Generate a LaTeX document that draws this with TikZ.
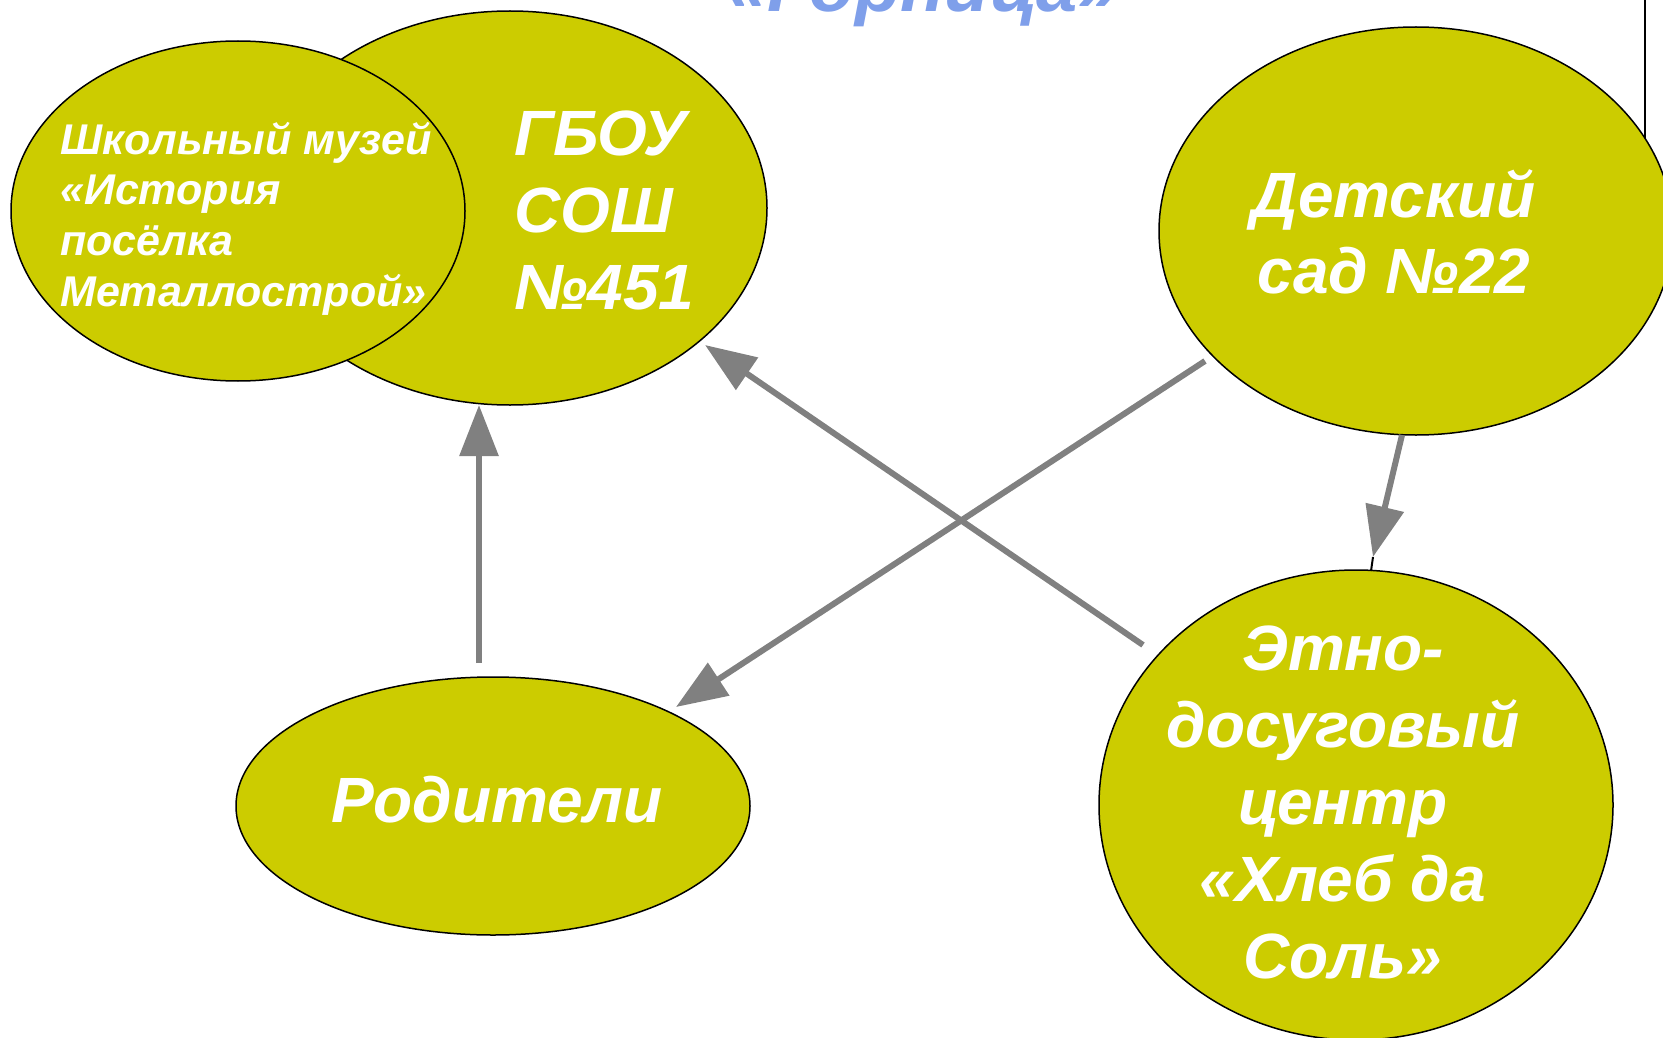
\documentclass[tikz,border=0pt]{standalone}
\usepackage{fontspec}
\setmainfont{Liberation Sans}
\usetikzlibrary{arrows.meta,shapes.geometric}
\definecolor{ovfill}{HTML}{CCCC00}
\definecolor{titleblue}{HTML}{7F9FEA}
\definecolor{arrgray}{HTML}{808080}
\begin{document}
\begin{tikzpicture}[x=1pt,y=-1pt,
  bubble/.style={ellipse, draw=black, line width=1.5pt, fill=ovfill, inner sep=0pt},
  conn/.style={draw=arrgray, line width=6pt, -{Triangle[length=51pt,width=38pt]}},
  thin/.style={draw=black, line width=2pt},
  big/.style={text=white, font=\fontsize{64}{77}\selectfont\bfseries\itshape, inner sep=0pt},
  small/.style={text=white, font=\fontsize{43}{51}\selectfont\bfseries\itshape, inner sep=0pt},
  titletext/.style={text=titleblue, font=\fontsize{74}{80}\selectfont\bfseries\itshape, inner sep=0pt},
]
\useasboundingbox (0,0) rectangle (1663,1038);
% title (cut at top edge)
\node[titletext, anchor=base] (title) at (923,12) {«Горница»};
% vertical line behind the kindergarten ellipse
\coordinate (vtop) at (1645,0);
\coordinate (vbot) at (1645,140);
\draw[thin] (vtop) -- (vbot);
% ellipses
\node[bubble, minimum width=514pt, minimum height=394pt] (gbou) at (510,208) {};
\node[bubble, minimum width=454pt, minimum height=340pt] (museum) at (238,211) {};
\node[bubble, minimum width=514pt, minimum height=408pt] (sad) at (1416,231) {};
\node[bubble, minimum width=514pt, minimum height=258pt] (parents) at (493,806) {};
\node[bubble, minimum width=514pt, minimum height=470pt] (etno) at (1356,805) {};
% texts
\node[small, anchor=base west] (museumtext) at (60,154)
  {\begin{tabular}[t]{@{}l@{}}Школьный музей\\«История\\посёлка\\Металлострой»\end{tabular}};
\node[big, anchor=base west] (gboutext) at (514,156)
  {\begin{tabular}[t]{@{}l@{}}ГБОУ\\СОШ\\№451\end{tabular}};
\node[big, anchor=base] (sadtext) at (1394,217)
  {\begin{tabular}[t]{@{}c@{}}Детский\\сад №22\end{tabular}};
\node[big, anchor=base] (parentstext) at (497,822) {Родители};
\node[big, anchor=base] (etnotext) at (1343,670)
  {\begin{tabular}[t]{@{}c@{}}Этно-\\досуговый\\центр\\«Хлеб да\\Соль»\end{tabular}};
% connectors
\coordinate (a1s) at (479,663);
\coordinate (a1e) at (479,405);
\coordinate (a2s) at (1143,645);
\coordinate (a2e) at (705,345);
\coordinate (a3s) at (1205,361);
\coordinate (a3e) at (676,707);
\coordinate (a4s) at (1402,435);
\coordinate (a4e) at (1373,557);
\coordinate (a4t) at (1371,571);
\draw[thin] (a4e) -- (a4t);
\draw[conn] (a1s) -- (a1e);
\draw[conn] (a2s) -- (a2e);
\draw[conn] (a3s) -- (a3e);
\draw[conn] (a4s) -- (a4e);
\end{tikzpicture}
\end{document}
